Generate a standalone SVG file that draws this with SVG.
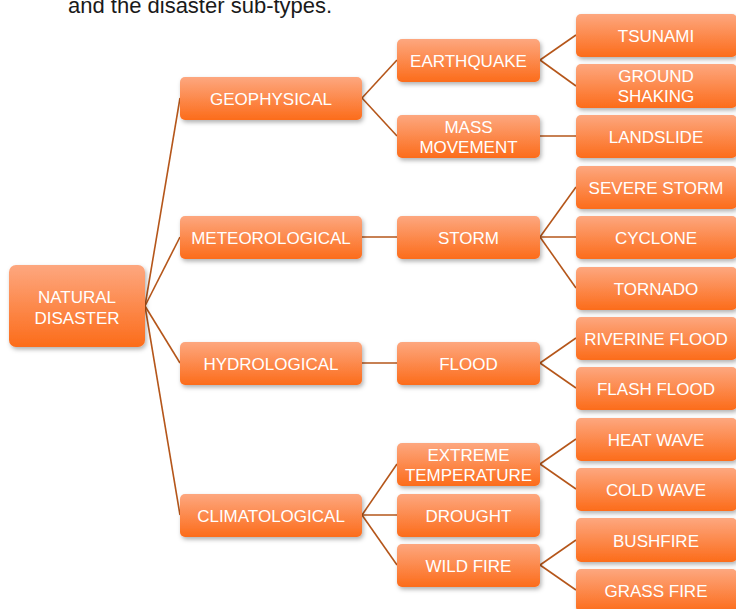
<svg xmlns="http://www.w3.org/2000/svg" width="736" height="609" viewBox="0 0 736 609">
<defs>
<linearGradient id="g" x1="0" y1="0" x2="0" y2="1">
<stop offset="0" stop-color="#FDA77F"/>
<stop offset="1" stop-color="#FC6C1A"/>
</linearGradient>
<filter id="sh" x="-10%" y="-20%" width="125%" height="160%">
<feDropShadow dx="1.5" dy="2.5" stdDeviation="2" flood-color="#000" flood-opacity="0.3"/>
</filter>
</defs>
<style>
.b{fill:url(#g);filter:url(#sh)}
.t{fill:#fff;font-family:"Liberation Sans",Arial,sans-serif;font-size:17px;text-anchor:middle}
.c line{stroke:#B5561A;stroke-width:1.6;fill:none}
</style>
<rect width="736" height="609" fill="#fff"/>
<text x="68" y="13" font-family="Liberation Sans, Arial, sans-serif" font-size="22" fill="#1a1a1a">and the disaster sub-types.</text>
<g class="c" id="connectors">
<line x1="145" y1="306" x2="180" y2="98"/>
<line x1="145" y1="306" x2="180" y2="237"/>
<line x1="145" y1="306" x2="180" y2="363"/>
<line x1="145" y1="306" x2="180" y2="515"/>
<line x1="362" y1="98" x2="397" y2="60"/>
<line x1="362" y1="98" x2="397" y2="136"/>
<line x1="362" y1="237" x2="397" y2="237"/>
<line x1="362" y1="363" x2="397" y2="363"/>
<line x1="362" y1="515" x2="397" y2="464"/>
<line x1="362" y1="515" x2="397" y2="515"/>
<line x1="362" y1="515" x2="397" y2="565"/>
<line x1="540" y1="60" x2="576" y2="35"/>
<line x1="540" y1="60" x2="576" y2="86"/>
<line x1="540" y1="136" x2="576" y2="136"/>
<line x1="540" y1="237" x2="576" y2="187"/>
<line x1="540" y1="237" x2="576" y2="237"/>
<line x1="540" y1="237" x2="576" y2="288"/>
<line x1="540" y1="363" x2="576" y2="338"/>
<line x1="540" y1="363" x2="576" y2="388"/>
<line x1="540" y1="464" x2="576" y2="439"/>
<line x1="540" y1="464" x2="576" y2="489"/>
<line x1="540" y1="565" x2="576" y2="540"/>
<line x1="540" y1="565" x2="576" y2="590"/>
</g>
<g id="natural-disaster"><rect class="b" x="9" y="265" width="136" height="82" rx="7"/><text class="t" x="77" y="303">NATURAL</text><text class="t" x="77" y="324">DISASTER</text></g>
<g id="geophysical"><rect class="b" x="180" y="77" width="182" height="43" rx="5"/><text class="t" x="271" y="104.5">GEOPHYSICAL</text></g>
<g id="meteorological"><rect class="b" x="180" y="216" width="182" height="43" rx="5"/><text class="t" x="271" y="243.5">METEOROLOGICAL</text></g>
<g id="hydrological"><rect class="b" x="180" y="342" width="182" height="43" rx="5"/><text class="t" x="271" y="369.5">HYDROLOGICAL</text></g>
<g id="climatological"><rect class="b" x="180" y="494" width="182" height="43" rx="5"/><text class="t" x="271" y="521.5">CLIMATOLOGICAL</text></g>
<g id="earthquake"><rect class="b" x="397" y="39" width="143" height="43" rx="5"/><text class="t" x="468.5" y="66.5">EARTHQUAKE</text></g>
<g id="mass-movement"><rect class="b" x="397" y="115" width="143" height="43" rx="5"/><text class="t" x="468.5" y="133">MASS</text><text class="t" x="468.5" y="153">MOVEMENT</text></g>
<g id="storm"><rect class="b" x="397" y="216" width="143" height="43" rx="5"/><text class="t" x="468.5" y="243.5">STORM</text></g>
<g id="flood"><rect class="b" x="397" y="342" width="143" height="43" rx="5"/><text class="t" x="468.5" y="369.5">FLOOD</text></g>
<g id="extreme-temperature"><rect class="b" x="397" y="443" width="143" height="43" rx="5"/><text class="t" x="468.5" y="461">EXTREME</text><text class="t" x="468.5" y="481">TEMPERATURE</text></g>
<g id="drought"><rect class="b" x="397" y="494" width="143" height="43" rx="5"/><text class="t" x="468.5" y="521.5">DROUGHT</text></g>
<g id="wild-fire"><rect class="b" x="397" y="544" width="143" height="43" rx="5"/><text class="t" x="468.5" y="571.5">WILD FIRE</text></g>
<g id="tsunami"><rect class="b" x="576" y="14" width="161" height="43" rx="5"/><text class="t" x="656" y="41.5">TSUNAMI</text></g>
<g id="ground-shaking"><rect class="b" x="576" y="64" width="161" height="44" rx="5"/><text class="t" x="656" y="82">GROUND</text><text class="t" x="656" y="102">SHAKING</text></g>
<g id="landslide"><rect class="b" x="576" y="115" width="161" height="43" rx="5"/><text class="t" x="656" y="142.5">LANDSLIDE</text></g>
<g id="severe-storm"><rect class="b" x="576" y="166" width="161" height="43" rx="5"/><text class="t" x="656" y="193.5">SEVERE STORM</text></g>
<g id="cyclone"><rect class="b" x="576" y="216" width="161" height="43" rx="5"/><text class="t" x="656" y="243.5">CYCLONE</text></g>
<g id="tornado"><rect class="b" x="576" y="267" width="161" height="43" rx="5"/><text class="t" x="656" y="294.5">TORNADO</text></g>
<g id="riverine-flood"><rect class="b" x="576" y="317" width="161" height="43" rx="5"/><text class="t" x="656" y="344.5">RIVERINE FLOOD</text></g>
<g id="flash-flood"><rect class="b" x="576" y="367" width="161" height="43" rx="5"/><text class="t" x="656" y="394.5">FLASH FLOOD</text></g>
<g id="heat-wave"><rect class="b" x="576" y="418" width="161" height="43" rx="5"/><text class="t" x="656" y="445.5">HEAT WAVE</text></g>
<g id="cold-wave"><rect class="b" x="576" y="468" width="161" height="43" rx="5"/><text class="t" x="656" y="495.5">COLD WAVE</text></g>
<g id="bushfire"><rect class="b" x="576" y="518" width="161" height="44" rx="5"/><text class="t" x="656" y="546.5">BUSHFIRE</text></g>
<g id="grass-fire"><rect class="b" x="576" y="569" width="161" height="43" rx="5"/><text class="t" x="656" y="596.5">GRASS FIRE</text></g>
</svg>
